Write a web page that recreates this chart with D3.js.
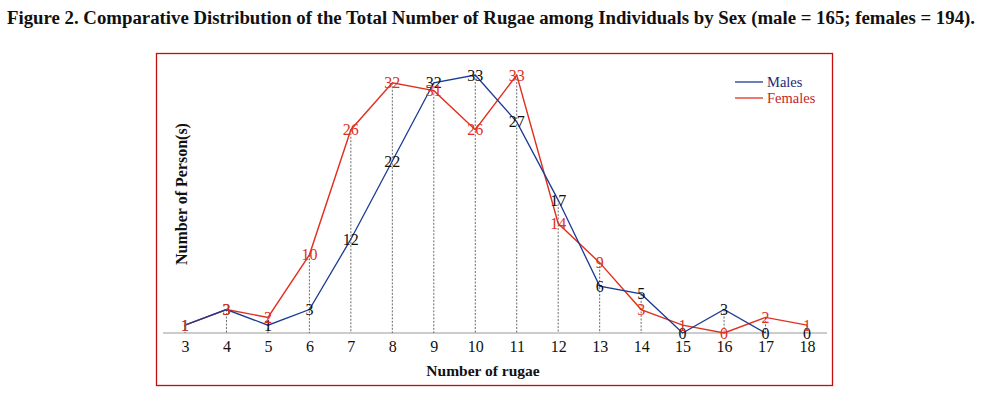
<!DOCTYPE html>
<html><head><meta charset="utf-8">
<script src="https://cdn.jsdelivr.net/npm/d3@7"></script>
<style>body{margin:0;background:#fff}svg{display:block}</style>
</head><body>
<svg id="c" width="989" height="394"></svg>
<script>
const title = "Figure 2. Comparative Distribution of the Total Number of Rugae among Individuals by Sex (male = 165; females = 194).";
const rugae = [3,4,5,6,7,8,9,10,11,12,13,14,15,16,17,18];
const males = [1,3,1,3,12,22,32,33,27,17,6,5,0,3,0,0];
const females = [1,3,2,10,26,32,31,26,33,14,9,3,1,0,2,1];
const maleLineEnd = 17;
const seriesNames = ["Males","Females"];

const svg = d3.select("#c");
const font = "'Liberation Serif', 'Times New Roman', serif";
const blue = "#1c3a94", red = "#e0301e", frame = "#c40d0d";

svg.append("text").attr("x", 7).attr("y", 24).attr("font-family", font)
  .attr("font-weight", "bold").attr("font-size", 18).attr("fill", "#111")
  .attr("textLength", 968).attr("lengthAdjust", "spacingAndGlyphs").text(title);

svg.append("rect").attr("x", 156.5).attr("y", 53.5).attr("width", 676).attr("height", 332)
  .attr("fill", "none").attr("stroke", frame).attr("stroke-width", 1.3);

const x = d3.scaleLinear().domain([3,18]).range([185,807]);
const y = d3.scaleLinear().domain([0,33]).range([333,75]);

// axis
const xAxis = d3.axisBottom(x).tickValues(rugae).tickFormat(d3.format("d")).tickSize(0).tickPadding(8);
const gx = svg.append("g").attr("transform", "translate(0,333)").call(xAxis);
gx.select(".domain").remove();
gx.selectAll("text").attr("font-family", font).attr("font-size", 16).attr("fill", "#111");
svg.append("line").attr("x1", 163).attr("x2", 827).attr("y1", 333).attr("y2", 333)
  .attr("stroke", "#999").attr("stroke-width", 1);

// drop lines
svg.append("g").selectAll("line").data(rugae).join("line")
  .attr("x1", d => x(d)).attr("x2", d => x(d))
  .attr("y1", (d,i) => y(Math.max(males[i], females[i]))).attr("y2", 333)
  .attr("stroke", "#444").attr("stroke-width", 0.8).attr("stroke-dasharray", "2,1.5");

const line = d3.line().x(d => x(d.x)).y(d => y(d.v));
const mData = rugae.map((r,i) => ({x:r, v:males[i]}));
const fData = rugae.map((r,i) => ({x:r, v:females[i]}));

svg.append("path").datum(fData).attr("d", line).attr("fill", "none").attr("stroke", red).attr("stroke-width", 1.4);
svg.append("path").datum(mData.filter(d => d.x <= maleLineEnd)).attr("d", line).attr("fill", "none").attr("stroke", blue).attr("stroke-width", 1.3);

// labels
svg.append("g").selectAll("text").data(mData).join("text")
  .attr("x", d => x(d.x)).attr("y", d => y(d.v) + 5.5).attr("text-anchor", "middle")
  .attr("font-family", font).attr("font-size", 16).attr("fill", "#111").text(d => d.v);
svg.append("g").selectAll("text").data(fData).join("text")
  .attr("x", d => x(d.x)).attr("y", d => y(d.v) + 5.5).attr("text-anchor", "middle")
  .attr("font-family", font).attr("font-size", 16).attr("fill", red).text(d => d.v);

// axis titles
svg.append("text").attr("x", 483).attr("y", 376).attr("text-anchor", "middle")
  .attr("font-family", font).attr("font-weight", "bold").attr("font-size", 15.5).attr("fill", "#111")
  .text("Number of rugae");
svg.append("text").attr("transform", "translate(187,194) rotate(-90)").attr("text-anchor", "middle")
  .attr("font-family", font).attr("font-weight", "bold").attr("font-size", 16).attr("fill", "#111")
  .text("Number of Person(s)");

// legend
const leg = svg.append("g");
[blue, red].forEach((c, i) => {
  leg.append("line").attr("x1", 735).attr("x2", 763).attr("y1", 82 + i*16).attr("y2", 82 + i*16)
    .attr("stroke", c).attr("stroke-width", 1.3);
  leg.append("text").attr("x", 767).attr("y", 87 + i*16).attr("font-family", font).attr("font-size", 14.5)
    .attr("fill", i === 0 ? "#1c2a70" : "#c81e1e").text(seriesNames[i]);
});
</script>
</body></html>
